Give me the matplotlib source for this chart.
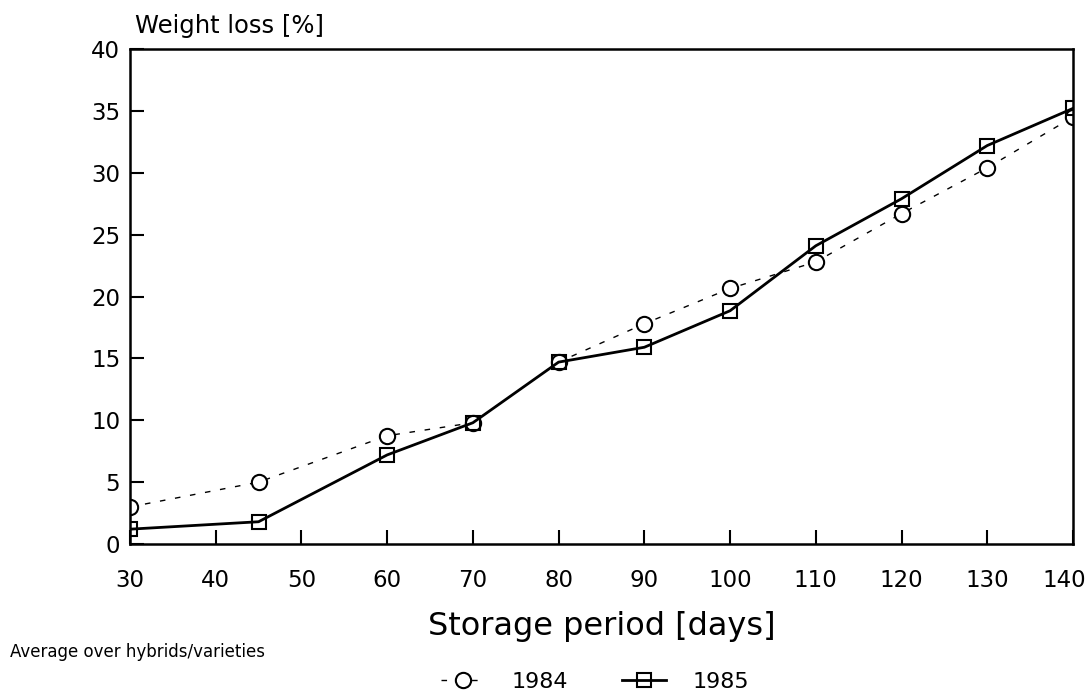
import matplotlib
matplotlib.use("Agg")
import matplotlib.pyplot as plt
from matplotlib.transforms import ScaledTranslation

# storage period (days)
days = [30, 45, 60, 70, 80, 90, 100, 110, 120, 130, 140]
# weight loss [%]
loss_1984 = [3.0, 5.0, 8.75, 9.8, 14.7, 17.8, 20.65, 22.8, 26.7, 30.4, 34.5]
loss_1985 = [1.2, 1.8, 7.2, 9.8, 14.7, 15.9, 18.85, 24.1, 27.9, 32.2, 35.2]

x_ticks = list(range(30, 141, 10))
y_ticks = list(range(0, 41, 5))

plt.rcParams["font.family"] = ["DejaVu Sans"]

fig = plt.figure(figsize=(10.92, 6.94), dpi=100)
ax = fig.add_axes([0.119, 0.2161, 0.8636, 0.7133])

ax.plot(days, loss_1984, color="black", lw=1.0, ls=(0, (4, 7)),
        marker="o", ms=11, mfc="white", mec="black", mew=1.5, label="1984")
ax.plot(days, loss_1985, color="black", lw=2.0, ls="-",
        marker="s", ms=10, mfc="none", mec="black", mew=1.5, label="1985")

ax.set_xlim(30, 140)
ax.set_ylim(0, 40)
ax.set_xticks(x_ticks)
ax.set_yticks(y_ticks)
ax.tick_params(direction="in", length=10, width=1.5, labelsize=16.5)
ax.tick_params(axis="x", pad=18)
ax.tick_params(axis="y", pad=7)
for sp in ax.spines.values():
    sp.set_linewidth(1.8)

# last x label sits a bit left of its tick, as in the original
last = ax.get_xticklabels()[-1]
last.set_transform(last.get_transform() + ScaledTranslation(-0.09, 0, fig.dpi_scale_trans))

fig.text(0.124, 0.9524, "Weight loss [%]", fontsize=17.5, va="baseline", ha="left")
ax.set_xlabel("Storage period [days]", fontsize=23, labelpad=14)
fig.text(0.009, 0.0605, "Average over hybrids/varieties", fontsize=12, va="center", ha="left")

ax.legend(loc="center", bbox_to_anchor=(0.545, 0.018), bbox_transform=fig.transFigure,
          ncol=2, frameon=False, fontsize=16, handlelength=2.0, columnspacing=2.4,
          handletextpad=1.2, borderpad=0)

fig.savefig("out.png", dpi=100)
